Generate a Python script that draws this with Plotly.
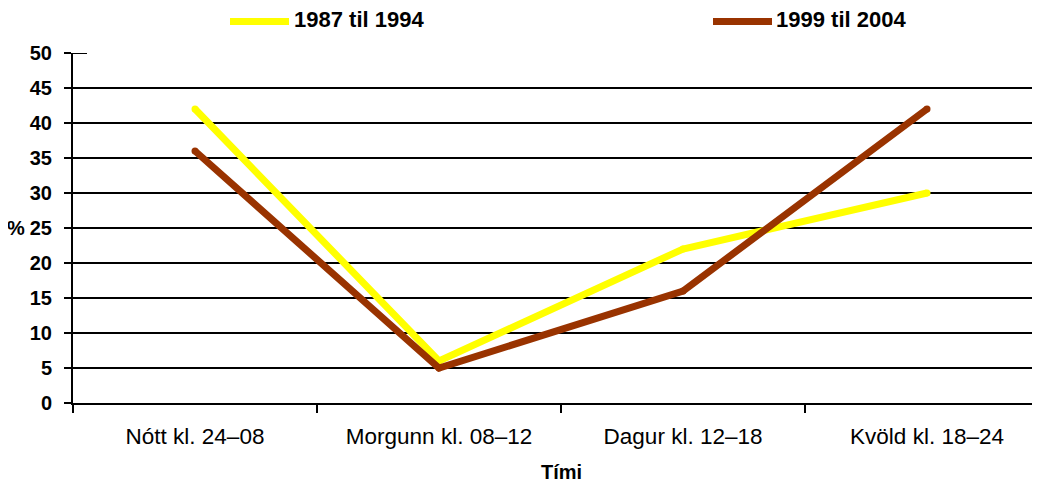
import plotly.graph_objects as go

categories = ["Nótt kl. 24–08", "Morgunn kl. 08–12", "Dagur kl. 12–18", "Kvöld kl. 18–24"]
series_names = ["1987 til 1994", "1999 til 2004"]
series_1987_1994 = [42, 6, 22, 30]
series_1999_2004 = [36, 5, 16, 42]
y_ticks = [0, 5, 10, 15, 20, 25, 30, 35, 40, 45, 50]
colors = ["#FFFF00", "#993300"]

OFF = 8  # page body margin
W, H = 1032, 476
L, R, T, B = 65, 0, 45, 81
pw = W - L - R
ph = H - T - B

def px_x(p):
    return (p - OFF - L) / pw

def px_y(p):
    return 1 + (T - (p - OFF)) / ph

FONT = "Liberation Sans, Arial, sans-serif"

fig = go.Figure()
for name, vals, col in zip(series_names, [series_1987_1994, series_1999_2004], colors):
    fig.add_trace(go.Scatter(
        x=categories, y=vals, name=name, mode="lines+markers",
        line=dict(color=col, width=7),
        marker=dict(color=col, size=7, line=dict(width=0)),
        showlegend=False, hoverinfo="skip",
    ))

shapes = []
for v in y_ticks[1:-1]:
    shapes.append(dict(type="line", xref="paper", yref="y", x0=0, x1=1, y0=v, y1=v,
                       line=dict(color="black", width=2), layer="below"))
shapes.append(dict(type="line", xref="paper", yref="y", x0=0, x1=px_x(87), y0=y_ticks[-1], y1=y_ticks[-1],
                   line=dict(color="black", width=2), layer="below"))

annotations = []
legend_pos = [(230, 289, 292), (713, 772, 774)]
for (lx0, lx1, tx), name, col in zip(legend_pos, series_names, colors):
    shapes.append(dict(type="line", xref="paper", yref="paper", x0=px_x(lx0), x1=px_x(lx1),
                       y0=px_y(21.5), y1=px_y(21.5), line=dict(color=col, width=7)))
    annotations.append(dict(text="<b>%s</b>" % name, xref="paper", yref="paper", x=px_x(tx), y=px_y(20),
                            xanchor="left", yanchor="middle", showarrow=False,
                            font=dict(family=FONT, size=22, color="black")))

annotations.append(dict(text="<b>%</b>", xref="paper", yref="y", x=px_x(27), y=25,
                        xanchor="right", yanchor="middle", showarrow=False,
                        font=dict(family=FONT, size=20, color="black")))
annotations.append(dict(text="<b>Tími</b>", xref="paper", yref="paper", x=px_x(561), y=px_y(472),
                        xanchor="center", yanchor="middle", showarrow=False,
                        font=dict(family=FONT, size=20, color="black")))

fig.update_layout(
    width=W, height=H,
    margin=dict(l=L, r=R, t=T, b=B, pad=0),
    paper_bgcolor="white", plot_bgcolor="white",
    font=dict(family=FONT, color="black"),
    shapes=shapes, annotations=annotations,
    xaxis=dict(
        type="category", range=[-0.5, 3.463], showgrid=False, zeroline=False,
        showline=True, linecolor="black", linewidth=2,
        ticks="outside", tickson="boundaries", ticklen=8, tickwidth=2, tickcolor="black",
        tickfont=dict(family=FONT, size=22.5, color="black"), ticklabelstandoff=12,
    ),
    yaxis=dict(
        range=[0, 50], tickvals=y_ticks, showgrid=False, zeroline=False,
        showline=True, linecolor="black", linewidth=2,
        ticks="outside", ticklen=7, tickwidth=2, tickcolor="black",
        tickfont=dict(family=FONT, size=20, color="black", weight="bold"), ticklabelstandoff=8,
    ),
)

fig.write_html("out.html")
